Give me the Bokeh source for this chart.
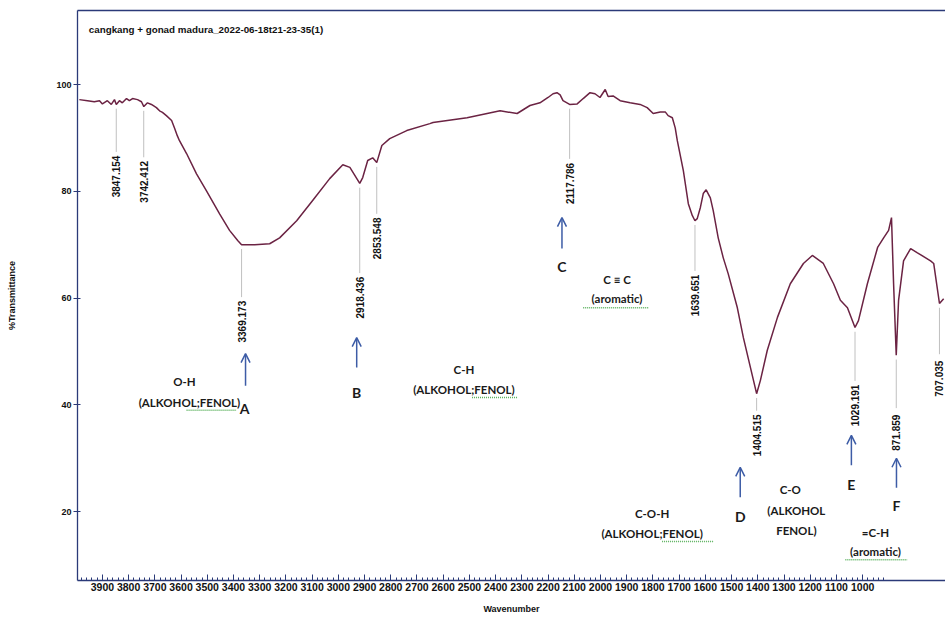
import math
from bokeh.plotting import figure
from bokeh.models import Range1d, FixedTicker, LinearAxis, Arrow, OpenHead, Label
from bokeh.core.properties import value
from bokeh.embed import file_html
from bokeh.resources import INLINE

# ---------------- data ----------------
wavenumber = [3988, 3957, 3931, 3911, 3900, 3881, 3866, 3854, 3847, 3835, 3824, 3808, 3797, 3785,
              3766, 3751, 3742, 3728, 3713, 3694, 3682, 3671, 3656, 3636, 3625, 3614, 3606, 3579,
              3541, 3503, 3453, 3415, 3384, 3369.2, 3319, 3262, 3224, 3159, 3098, 3033, 2983, 2956,
              2918.4, 2907, 2888, 2869, 2853.5, 2834, 2804, 2739, 2651, 2639, 2509, 2383, 2318,
              2269, 2231, 2200, 2181, 2166, 2154, 2143, 2117.8, 2089, 2066, 2040, 2021, 2002, 1982,
              1971, 1952, 1925, 1887, 1849, 1822, 1799, 1772, 1753, 1742, 1726, 1715, 1707, 1684,
              1665, 1650, 1639.7, 1631, 1619, 1608, 1597, 1581, 1570, 1551, 1532, 1513, 1478, 1455,
              1428, 1404.5, 1390, 1364, 1325, 1276, 1226, 1192, 1150, 1111, 1085, 1058, 1029.2,
              1016, 982, 943, 920, 901, 890, 882, 871.9, 863, 844, 817, 791, 741, 729, 707.0, 691]
transmittance = [97.2, 97.0, 96.8, 97.0, 96.4, 97.0, 96.3, 97.2, 96.3, 97.0, 96.6, 97.4, 97.0, 97.4,
                 97.2, 96.8, 95.9, 96.6, 96.3, 95.7, 95.1, 94.8, 94.2, 93.3, 91.9, 90.4, 89.5, 87.1,
                 83.3, 80.1, 75.8, 72.7, 70.8, 70.0, 70.0, 70.2, 71.3, 74.5, 78.3, 82.4, 85.0, 84.5,
                 81.5, 82.6, 85.8, 86.3, 85.4, 88.6, 89.9, 91.4, 92.7, 92.9, 93.8, 95.1, 94.6,
                 96.1, 96.6, 97.6, 98.3, 98.5, 98.1, 97.0, 96.3, 96.4, 97.4, 98.5, 98.3, 97.6, 99.1,
                 97.8, 97.9, 97.0, 96.6, 96.3, 95.7, 94.6, 94.9, 94.9, 94.2, 93.8, 91.9, 89.5, 83.9,
                 77.7, 75.5, 74.5, 74.9, 77.0, 79.6, 80.3, 78.8, 76.4, 71.3, 67.6, 64.6, 58.2, 52.6,
                 47.0, 42.1, 44.6, 50.2, 56.4, 62.7, 66.5, 68.0, 66.5, 62.7, 59.6, 58.2, 54.5,
                 55.8, 62.7, 69.5, 71.3, 72.7, 75.1, 62.7, 49.3, 59.6, 67.0, 69.3, 68.5, 67.0, 66.5, 59.0, 59.9]

peak_wn = [3847.154, 3742.412, 3369.173, 2918.436, 2853.548, 2117.786, 1639.651, 1404.515, 1029.191, 871.859, 707.035]
peak_T = [96.3, 95.9, 70.0, 81.5, 85.4, 96.3, 74.5, 42.1, 54.5, 49.3, 59.0]
peak_text = ["3847.154", "3742.412", "3369.173", "2918.436", "2853.548", "2117.786",
             "1639.651", "1404.515", "1029.191", "871.859", "707.035"]

x_ticks = list(range(1000, 3901, 100))
x_minor = list(range(920, 3990, 20))
y_ticks = [20, 40, 60, 80, 100]

title_text = "cangkang + gonad madura_2022-06-18t21-23-35(1)"

# annotation layout (data units)
peak_label_y = [82.8, 81.8, 55.6, 60.1, 71.2, 81.5, 60.5, 34.3, 39.9, 34.8, 44.9]

arrow_x = [3354, 2930, 2147, 1467, 1043, 871]
arrow_y0 = [43.6, 47.0, 69.3, 22.7, 28.7, 24.5]
arrow_y1 = [49.6, 52.6, 75.1, 28.3, 34.3, 30.0]

letter_text = ["A", "B", "C", "D", "E", "F"]
letter_x = [3358, 2930, 2147, 1467, 1043, 871]
letter_y = [39.3, 42.3, 65.9, 19.1, 25.1, 21.2]

note_text = ["O-H", "(ALKOHOL;FENOL)", "C-H", "(ALKOHOL;FENOL)", "C \u2261 C", "(aromatic)",
             "C-O-H", "(ALKOHOL;FENOL)", "C-O", "(ALKOHOL", "FENOL)", "=C-H", "(aromatic)"]
note_x = [3587, 3568, 2521, 2521, 1937, 1937, 1803, 1803, 1276, 1253, 1253, 951, 951]
note_y = [44.4, 40.4, 46.6, 42.9, 63.5, 59.9, 19.7, 15.9, 24.2, 20.2, 16.5, 16.1, 12.5]

squig_x0 = [3579, 2490, 2066, 1765, 1066]
squig_x1 = [3388, 2315, 1818, 1570, 829]
squig_y = [39.0, 41.4, 58.2, 14.4, 11.0]

# ---------------- figure ----------------
navy = "#2b3a78"
curve = "#6b2343"
blue = "#3d5ca6"
font = "Liberation Sans"

p = figure(width=945, height=619, x_range=Range1d(3995, 684), y_range=Range1d(7.1, 113.9),
           output_backend="svg", toolbar_location=None,
           min_border_left=77, min_border_right=0, min_border_top=10, min_border_bottom=39)
p.grid.visible = False
p.outline_line_color = None
p.background_fill_color = "white"
p.border_fill_color = "white"

xa = p.xaxis[0]
xa.ticker = FixedTicker(ticks=x_ticks, minor_ticks=x_minor)
xa.major_tick_in = 6
xa.major_tick_out = 0
xa.minor_tick_in = 3
xa.minor_tick_out = 0
xa.major_label_standoff = 2
xa.major_label_text_font = font
xa.major_label_text_font_style = "bold"
xa.major_label_text_font_size = "10.5px"
xa.major_label_text_color = "#111111"
xa.axis_label = "Wavenumber"
xa.axis_label_text_font = font
xa.axis_label_text_font_style = "bold"
xa.axis_label_text_font_size = "9px"
xa.axis_label_text_color = "#111111"
xa.axis_label_standoff = 10

ya = p.yaxis[0]
ya.ticker = FixedTicker(ticks=y_ticks)
ya.major_tick_in = 3
ya.major_tick_out = 4
ya.minor_tick_line_color = None
ya.major_label_standoff = 2
ya.major_label_text_font = font
ya.major_label_text_font_style = "bold"
ya.major_label_text_font_size = "9px"
ya.major_label_text_color = "#111111"
ya.axis_label = "%Transmittance"
ya.axis_label_text_font = font
ya.axis_label_text_font_style = "bold"
ya.axis_label_text_font_size = "9px"
ya.axis_label_text_color = "#111111"
ya.axis_label_standoff = 36

for ax in (xa, ya):
    ax.axis_line_color = navy
    ax.axis_line_width = 1.3
    ax.major_tick_line_color = navy
xa.minor_tick_line_color = navy

top = LinearAxis(ticker=FixedTicker(ticks=[]), axis_line_color=navy, axis_line_width=1.3,
                 major_tick_line_color=None, minor_tick_line_color=None,
                 major_label_text_font_size="0px", major_tick_in=0, major_tick_out=0,
                 major_label_standoff=0)
p.add_layout(top, "above")

# spectrum
p.line(wavenumber, transmittance, line_color=curve, line_width=1.5)

# peak drop lines and labels
drop_top = [t - 0.8 for t in peak_T]
drop_bot = [y + 4.6 for y in peak_label_y]
p.segment(x0=peak_wn, y0=drop_top, x1=peak_wn, y1=drop_bot, line_color="#b0b0b0", line_width=0.8)
p.text(x=peak_wn, y=peak_label_y, text=peak_text, angle=math.pi / 2,
       text_align="center", text_baseline="middle", text_font=value(font),
       text_font_size="10px", text_font_style="bold", text_color="#111111")

# title
p.add_layout(Label(x=3952, y=110.3, text=title_text, text_align="left", text_baseline="middle",
                   text_font=font, text_font_size="9.8px", text_font_style="bold", text_color="#111111"))

# arrows
for ax_, y0, y1 in zip(arrow_x, arrow_y0, arrow_y1):
    p.add_layout(Arrow(end=OpenHead(size=9, line_color=blue, line_width=1.5),
                       x_start=ax_, y_start=y0, x_end=ax_, y_end=y1,
                       line_color=blue, line_width=1.5))

p.text(x=letter_x, y=letter_y, text=letter_text, text_align="center", text_baseline="middle",
       text_font=value("Lato"), text_font_size="14px", text_font_style="bold", text_color="#1a1a1a")
p.text(x=note_x, y=note_y, text=note_text, text_align="center", text_baseline="middle",
       text_font=value("Lato"), text_font_size="11.5px", text_font_style="bold", text_color="#1a1a1a")
p.segment(x0=squig_x0, y0=squig_y, x1=squig_x1, y1=squig_y, line_color="#58b05a",
          line_width=1.5, line_dash="1 1")

open("out.html", "w").write(file_html(p, INLINE))
